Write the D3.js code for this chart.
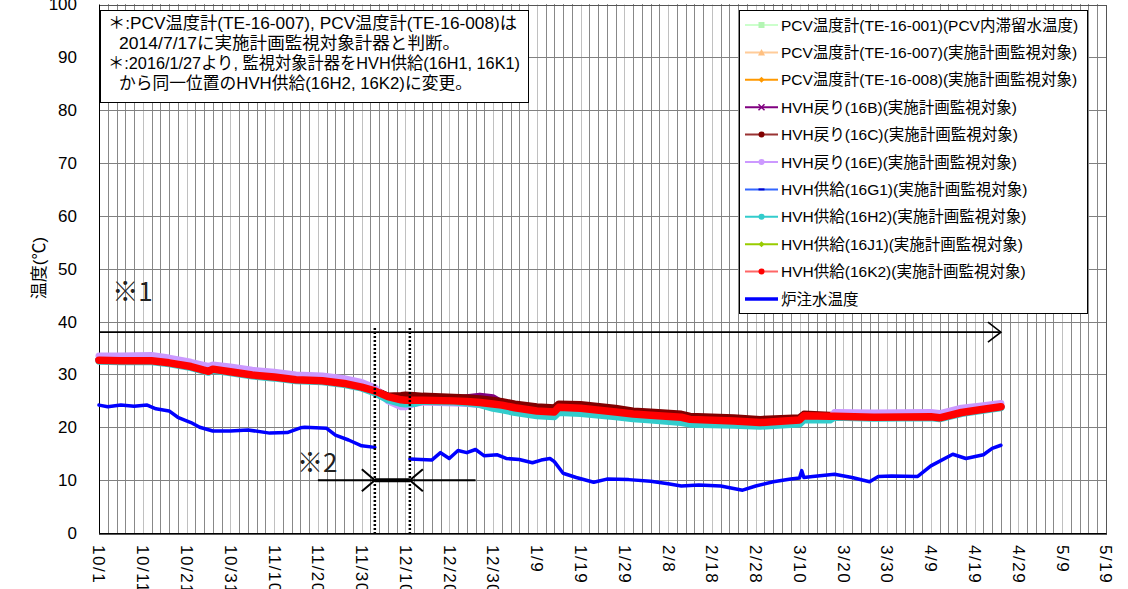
<!DOCTYPE html>
<html>
<head>
<meta charset="utf-8">
<script src="https://cdnjs.cloudflare.com/ajax/libs/d3/7.8.5/d3.min.js"></script>
<style>
  html, body { margin: 0; padding: 0; background: #fff; }
  svg { display: block; }
  .num { font-family: "Liberation Sans", Arial, sans-serif; fill: #000; }
  .jp { font-family: "Liberation Sans", "Noto Sans CJK JP", sans-serif; fill: #000; }
  .cjk { font-family: "Noto Sans CJK JP", "Liberation Sans", sans-serif; }
</style>
</head>
<body>
<svg id="chart" width="1128" height="589"></svg>
<script>
// ---- axis labels ----
const yTickLabels = [0, 10, 20, 30, 40, 50, 60, 70, 80, 90, 100];
const xTickLabels = ["10/1", "10/11", "10/21", "10/31", "11/10", "11/20", "11/30", "12/10",
  "12/20", "12/30", "1/9", "1/19", "1/29", "2/8", "2/18", "2/28", "3/10", "3/20", "3/30",
  "4/9", "4/19", "4/29", "5/9", "5/19"];
const yTitle = "温度(℃)";

// ---- PCV / HVH readings (shared sampling dates) ----
const sampleDates = ["2016-10-01", "2016-10-06", "2016-10-13", "2016-10-17", "2016-10-22",
  "2016-10-26", "2016-10-27", "2016-10-31", "2016-11-05", "2016-11-10", "2016-11-15",
  "2016-11-21", "2016-11-26", "2016-11-30", "2016-12-03", "2016-12-06", "2016-12-09",
  "2016-12-10", "2016-12-12", "2016-12-14", "2016-12-21", "2016-12-24", "2016-12-27",
  "2016-12-30", "2017-01-01", "2017-01-04", "2017-01-09", "2017-01-13", "2017-01-14",
  "2017-01-19", "2017-01-27", "2017-01-31", "2017-02-04", "2017-02-11", "2017-02-13",
  "2017-02-23", "2017-03-01", "2017-03-10", "2017-03-11", "2017-03-17", "2017-03-18",
  "2017-03-27", "2017-04-09", "2017-04-11", "2017-04-16", "2017-04-21", "2017-04-25"];

const te16001 = [32.9, 32.8, 32.8, 32.4, 31.7, 30.8, 31.2, 30.7, 30.1, 29.7, 29.2, 29.0, 28.5, 27.8, 27.1, 26.0, 25.4, 25.3, 25.3, 25.3, 25.2, 25.1, 24.9, 24.6, 24.4, 23.9, 23.3, 23.1, 24.0, 23.8, 23.1, 22.7, 22.5, 22.1, 21.7, 21.4, 21.1, 21.6, 22.4, 22.3, 22.3, 22.1, 22.2, 22.0, 23.0, 23.6, 24.1];
const te16007 = [32.8, 32.7, 32.7, 32.3, 31.6, 30.7, 31.1, 30.6, 30.0, 29.6, 29.1, 28.9, 28.4, 27.7, 27.0, 25.9, 25.3, 25.2, 25.2, 25.2, 25.1, 25.0, 24.8, 24.5, 24.3, 23.8, 23.2, 23.0, 23.9, 23.7, 23.0, 22.6, 22.4, 22.0, 21.6, 21.3, 21.0, 21.5, 22.3, 22.2, 22.2, 22.0, 22.1, 21.9, 22.9, 23.5, 24.0];
const te16008 = [32.6, 32.5, 32.5, 32.1, 31.4, 30.5, 30.9, 30.4, 29.8, 29.4, 28.9, 28.7, 28.2, 27.5, 26.8, 25.7, 25.1, 25.0, 25.0, 25.0, 24.9, 24.8, 24.6, 24.3, 24.1, 23.6, 23.0, 22.8, 23.7, 23.5, 22.8, 22.4, 22.2, 21.8, 21.4, 21.1, 20.8, 21.3, 22.1, 22.0, 22.0, 21.8, 21.9, 21.7, 22.7, 23.3, 23.8];
const hvh16B = [32.8, 32.7, 32.7, 32.3, 31.6, 30.7, 31.1, 30.6, 30.0, 29.6, 29.1, 28.9, 28.4, 27.7, 27.0, 25.9, 25.3, 25.2, 25.2, 25.2, 25.3, 25.6, 25.9, 25.6, 24.6, 23.8, 23.2, 23.0, 23.9, 23.7, 23.0, 22.6, 22.4, 22.0, 21.6, 21.3, 21.0, 21.5, 22.3, 22.2, 22.2, 22.0, 22.1, 21.9, 22.9, 23.5, 24.0];
const hvh16C = [32.8, 32.7, 32.7, 32.3, 31.6, 30.7, 31.1, 30.6, 30.0, 29.6, 29.1, 28.9, 28.4, 27.7, 27.0, 25.9, 26.0, 26.1, 26.0, 25.9, 25.7, 25.6, 25.4, 25.1, 24.9, 24.4, 23.9, 23.7, 24.4, 24.3, 23.6, 23.1, 22.9, 22.5, 22.1, 21.8, 21.5, 21.8, 22.5, 22.3, 22.2, 21.9, 22.0, 21.8, 22.8, 23.4, 23.9];
const hvh16E = [33.5, 33.5, 33.6, 33.1, 32.3, 31.5, 31.8, 31.4, 30.8, 30.4, 29.9, 29.7, 29.2, 28.5, 27.5, 25.0, 23.9, 23.9, 24.5, 24.8, 24.6, 24.5, 24.3, 24.0, 23.8, 23.3, 22.8, 22.6, 23.4, 23.2, 22.6, 22.1, 21.9, 21.4, 21.0, 20.7, 20.4, 20.9, 21.7, 21.7, 22.8, 22.7, 22.8, 22.6, 23.6, 24.1, 24.5];
const hvh16G1 = [32.5, 32.4, 32.4, 32.0, 31.3, 30.4, 30.8, 30.3, 29.7, 29.3, 28.8, 28.6, 28.1, 27.4, 26.7, 25.6, 25.0, 24.9, 24.9, 24.9, 24.8, 24.7, 24.5, 24.2, 24.0, 23.5, 22.9, 22.7, 23.6, 23.4, 22.7, 22.3, 22.1, 21.7, 21.3, 21.0, 20.7, 21.2, 22.0, 21.9, 21.9, 21.7, 21.8, 21.6, 22.6, 23.2, 23.7];
const hvh16H2 = [32.5, 32.4, 32.4, 32.0, 31.3, 30.4, 30.8, 30.3, 29.7, 29.3, 28.8, 28.6, 28.1, 27.4, 26.5, 25.2, 24.5, 24.4, 24.5, 24.9, 24.8, 24.6, 24.3, 23.6, 23.3, 22.8, 22.2, 22.0, 22.8, 22.6, 22.0, 21.6, 21.4, 20.9, 20.6, 20.4, 20.2, 20.6, 21.4, 21.4, 21.9, 21.7, 21.8, 21.6, 22.6, 23.2, 23.7];
const hvh16J1 = [33.0, 32.9, 32.9, 32.5, 31.8, 30.9, 31.3, 30.8, 30.2, 29.8, 29.3, 29.1, 28.6, 27.9, 27.2, 26.1, 25.5, 25.4, 25.4, 25.4, 25.3, 25.2, 25.0, 24.7, 24.5, 24.0, 23.4, 23.2, 24.1, 23.9, 23.2, 22.8, 22.6, 22.2, 21.8, 21.5, 21.2, 21.7, 22.5, 22.4, 22.4, 22.2, 22.3, 22.1, 23.1, 23.7, 24.2];
const hvh16K2 = [32.7, 32.6, 32.6, 32.2, 31.5, 30.6, 31.0, 30.5, 29.9, 29.5, 29.0, 28.8, 28.3, 27.6, 26.9, 25.8, 25.2, 25.1, 25.1, 25.1, 25.0, 24.9, 24.7, 24.4, 24.2, 23.7, 23.1, 22.9, 23.8, 23.6, 22.9, 22.5, 22.3, 21.9, 21.5, 21.2, 20.9, 21.4, 22.2, 22.1, 22.1, 21.9, 22.0, 21.8, 22.8, 23.4, 23.9];

// ---- reactor injection water temperature (null = no data) ----
const injDates = ["2016-10-01", "2016-10-03", "2016-10-06", "2016-10-09", "2016-10-12",
  "2016-10-14", "2016-10-17", "2016-10-19", "2016-10-22", "2016-10-24", "2016-10-27",
  "2016-10-31", "2016-11-04", "2016-11-09", "2016-11-13", "2016-11-16", "2016-11-17",
  "2016-11-22", "2016-11-24", "2016-11-27", "2016-11-30", "2016-12-03", "2016-12-07",
  "2016-12-11", "2016-12-16", "2016-12-18", "2016-12-20", "2016-12-22", "2016-12-24",
  "2016-12-26", "2016-12-28", "2016-12-31", "2017-01-02", "2017-01-05", "2017-01-08",
  "2017-01-10", "2017-01-12", "2017-01-13", "2017-01-15", "2017-01-18", "2017-01-22",
  "2017-01-25", "2017-01-30", "2017-02-04", "2017-02-08", "2017-02-11", "2017-02-15",
  "2017-02-20", "2017-02-25", "2017-02-28", "2017-03-04", "2017-03-08", "2017-03-10",
  "2017-03-10T12:00", "2017-03-11", "2017-03-13", "2017-03-18", "2017-03-22", "2017-03-26",
  "2017-03-28", "2017-03-31", "2017-04-06", "2017-04-09", "2017-04-14", "2017-04-17",
  "2017-04-21", "2017-04-23", "2017-04-25"];
const injTemps = [24.2, 23.9, 24.2, 24.0, 24.2, 23.5, 23.1, 21.9, 20.9, 20.0, 19.3,
  19.3, 19.5, 18.9, 19.0, 19.9, 20.0, 19.8, 18.5, 17.6, 16.5, 16.2, null,
  14.0, 13.8, 15.2, 14.1, 15.6, 15.2, 15.8, 14.6, 14.8, 14.1, 13.9, 13.3,
  13.8, 14.1, 13.5, 11.3, 10.5, 9.6, 10.2, 10.1, 9.8, 9.3, 8.9, 9.1,
  8.9, 8.1, 8.9, 9.7, 10.2, 10.4, 11.8, 10.5, 10.7, 11.1, 10.5, 9.7,
  10.7, 10.8, 10.7, 12.7, 14.9, 14.1, 14.8, 16.0, 16.6];

// ---- series names (legend order = drawing order) ----
const seriesNames = [
  "PCV温度計(TE-16-001)(PCV内滞留水温度)",
  "PCV温度計(TE-16-007)(実施計画監視対象)",
  "PCV温度計(TE-16-008)(実施計画監視対象)",
  "HVH戻り(16B)(実施計画監視対象)",
  "HVH戻り(16C)(実施計画監視対象)",
  "HVH戻り(16E)(実施計画監視対象)",
  "HVH供給(16G1)(実施計画監視対象)",
  "HVH供給(16H2)(実施計画監視対象)",
  "HVH供給(16J1)(実施計画監視対象)",
  "HVH供給(16K2)(実施計画監視対象)",
  "炉注水温度"];
const seriesValues = [te16001, te16007, te16008, hvh16B, hvh16C, hvh16E, hvh16G1, hvh16H2, hvh16J1, hvh16K2];

// ---- annotations ----
const noteLines = [
  "＊:PCV温度計(TE-16-007), PCV温度計(TE-16-008)は",
  "2014/7/17に実施計画監視対象計器と判断。",
  "＊:2016/1/27より, 監視対象計器をHVH供給(16H1, 16K1)",
  "から同一位置のHVH供給(16H2, 16K2)に変更。"];
const span1Label = "※1";
const span1Dates = ["2016-10-01", "2017-04-25"];
const span1Level = 38;
const span2Label = "※2";
const span2Dates = ["2016-11-20", "2016-12-26"];
const span2Level = 10;
const gapDates = ["2016-12-03", "2016-12-11"];
const gapTop = 38.8;

// ---- styles ----
const styles = [
  {chart: "#ccffcc", width: 2.5, legendLine: "#ccffcc", marker: "square", markerFill: "#b3f5b3"},
  {chart: "#ffcc99", width: 2.5, legendLine: "#ffcc99", marker: "triangle", markerFill: "#ffc080"},
  {chart: "#ff9900", width: 2.5, legendLine: "#ff9900", marker: "diamond", markerFill: "#ff9900"},
  {chart: "#800080", width: 7, legendLine: "#800080", marker: "cross", markerFill: "#800080"},
  {chart: "#800000", width: 7, legendLine: "#993333", marker: "circle", markerFill: "#800000"},
  {chart: "#cc99ff", width: 7, legendLine: "#cc99ff", marker: "circle", markerFill: "#cc99ff"},
  {chart: "#3366ff", width: 2.5, legendLine: "#3366ff", marker: "dash", markerFill: "#0000cc"},
  {chart: "#33cccc", width: 7, legendLine: "#33cccc", marker: "circle", markerFill: "#33cccc"},
  {chart: "#99cc00", width: 2.5, legendLine: "#99cc00", marker: "diamond", markerFill: "#99cc00"},
  {chart: "#ff0000", width: 7.5, legendLine: "#ff6666", marker: "circle", markerFill: "#ff0000"},
  {chart: "#0000ff", width: 3.5, legendLine: "#0000ff", marker: null, markerFill: null, legendWidth: 3.5}
];

// ---- helpers ----
const parseDay = d3.timeParse("%Y-%m-%d");
const parseStamp = d3.timeParse("%Y-%m-%dT%H:%M");
const toDate = s => s.length > 10 ? parseStamp(s) : parseDay(s);
const fromLabel = s => {
  const [m, d] = s.split("/").map(Number);
  return new Date(m >= 10 ? 2016 : 2017, m - 1, d);
};
const crisp = v => Math.round(v) + 0.5;

const plot = {left: 99, right: 1106, top: 4.5, bottom: 533};
const tickDates = xTickLabels.map(fromLabel);
const x = d3.scaleTime()
  .domain([tickDates[0], tickDates[tickDates.length - 1]])
  .range([plot.left, plot.right]);
const y = d3.scaleLinear().domain([0, 100]).range([plot.bottom, plot.top]);

const svg = d3.select("#chart");

// ---- gridlines ----
const grid = svg.append("g");
const start = x.domain()[0], end = x.domain()[1];
const majorKeys = new Set(tickDates.map(d => +d));
const minorDays = d3.timeDay.range(start, d3.timeDay.offset(end, 1), 2)
  .filter(d => !majorKeys.has(+d));
grid.selectAll("line.minor").data(minorDays).join("line")
  .attr("class", "minor")
  .attr("x1", d => crisp(x(d))).attr("x2", d => crisp(x(d)))
  .attr("y1", plot.top).attr("y2", plot.bottom)
  .attr("stroke", "#111").attr("stroke-width", 1).attr("stroke-dasharray", "1,1");
grid.selectAll("line.major").data(tickDates.slice(1, -1)).join("line")
  .attr("class", "major")
  .attr("x1", d => crisp(x(d))).attr("x2", d => crisp(x(d)))
  .attr("y1", plot.top).attr("y2", plot.bottom)
  .attr("stroke", "#c0c0c0").attr("stroke-width", 1);
grid.selectAll("line.h").data(yTickLabels.slice(1, -1)).join("line")
  .attr("class", "h")
  .attr("x1", plot.left).attr("x2", plot.right)
  .attr("y1", d => crisp(y(d))).attr("y2", d => crisp(y(d)))
  .attr("stroke", "#808080").attr("stroke-width", 1);

// plot frame
svg.append("rect")
  .attr("x", crisp(plot.left)).attr("y", crisp(plot.top))
  .attr("width", Math.round(plot.right - plot.left)).attr("height", Math.round(plot.bottom - plot.top))
  .attr("fill", "none").attr("stroke", "#555").attr("stroke-width", 1);
svg.append("line")
  .attr("x1", crisp(plot.left)).attr("x2", crisp(plot.left))
  .attr("y1", plot.top).attr("y2", crisp(plot.bottom))
  .attr("stroke", "#000");
svg.append("line")
  .attr("x1", crisp(plot.left)).attr("x2", crisp(plot.right))
  .attr("y1", crisp(plot.bottom)).attr("y2", crisp(plot.bottom))
  .attr("stroke", "#000");

// ---- axes labels ----
const yAxis = d3.axisLeft(y).tickValues(yTickLabels).tickSize(0).tickPadding(0);
const yG = svg.append("g").attr("transform", `translate(${plot.left - 22},0)`).call(yAxis);
yG.select(".domain").remove();
yG.selectAll("text").attr("class", "num").attr("font-size", 17).attr("fill", "#000");

const xAxis = d3.axisBottom(x).tickValues(tickDates).tickSize(0)
  .tickFormat((d, i) => xTickLabels[i]);
const xG = svg.append("g").attr("transform", `translate(0,${plot.bottom})`).call(xAxis);
xG.select(".domain").remove();
xG.selectAll("text")
  .attr("class", "num").attr("font-size", 17).attr("fill", "#000")
  .attr("letter-spacing", 1.5)
  .attr("text-anchor", "start")
  .attr("transform", "rotate(90)")
  .attr("x", 12).attr("y", 0).attr("dy", "0.36em");

svg.append("text")
  .attr("class", "jp")
  .attr("transform", `translate(45,268) rotate(-90)`)
  .attr("text-anchor", "middle")
  .attr("font-size", 17)
  .text(yTitle);

// ---- series ----
const sampleTimes = sampleDates.map(toDate);
const line = d3.line()
  .defined(d => d.v != null)
  .x(d => x(d.t)).y(d => y(d.v));
const seriesG = svg.append("g");
seriesValues.forEach((vals, i) => {
  const pts = vals.map((v, k) => ({t: sampleTimes[k], v}));
  seriesG.append("path")
    .attr("d", line(pts))
    .attr("fill", "none")
    .attr("stroke", styles[i].chart)
    .attr("stroke-width", styles[i].width)
    .attr("stroke-linejoin", "round")
    .attr("stroke-linecap", "round");
});
const injPts = injDates.map((s, k) => ({t: toDate(s), v: injTemps[k]}));
seriesG.append("path")
  .attr("d", line(injPts))
  .attr("fill", "none")
  .attr("stroke", styles[10].chart)
  .attr("stroke-width", styles[10].width)
  .attr("stroke-linejoin", "round")
  .attr("stroke-linecap", "round");

// ---- span markers ----
const ann = svg.append("g");
// dotted guides at the data gap
gapDates.map(toDate).forEach(d => {
  ann.append("line")
    .attr("x1", x(d)).attr("x2", x(d))
    .attr("y1", y(gapTop)).attr("y2", plot.bottom)
    .attr("stroke", "#000").attr("stroke-width", 2.5).attr("stroke-dasharray", "2,2");
});
// span 1 arrow
const s1a = x(toDate(span1Dates[0])), s1b = x(toDate(span1Dates[1])), s1y = y(span1Level);
ann.append("line").attr("x1", s1a).attr("x2", s1b).attr("y1", s1y).attr("y2", s1y)
  .attr("stroke", "#000").attr("stroke-width", 1.6);
ann.append("path")
  .attr("d", `M${s1b - 13},${s1y - 10}L${s1b},${s1y}L${s1b - 13},${s1y + 10}`)
  .attr("fill", "none").attr("stroke", "#000").attr("stroke-width", 1.6);
ann.append("text").attr("class", "cjk")
  .attr("x", x(toDate("2016-10-04"))).attr("y", y(span1Level) - 31)
  .attr("font-size", 26).attr("fill", "#222")
  .text(span1Label);

// span 2 arrow
const s2a = x(toDate(span2Dates[0])), s2b = x(toDate(span2Dates[1])), s2y = y(span2Level);
const g1 = x(toDate(gapDates[0])), g2 = x(toDate(gapDates[1]));
ann.append("line").attr("x1", s2a).attr("x2", s2b).attr("y1", s2y).attr("y2", s2y)
  .attr("stroke", "#000").attr("stroke-width", 2);
ann.append("line").attr("x1", g1).attr("x2", g2).attr("y1", s2y).attr("y2", s2y)
  .attr("stroke", "#000").attr("stroke-width", 4);
ann.append("path")
  .attr("d", `M${g1 - 13},${s2y - 11}L${g1},${s2y}L${g1 - 13},${s2y + 11}`)
  .attr("fill", "none").attr("stroke", "#000").attr("stroke-width", 2);
ann.append("path")
  .attr("d", `M${g2 + 13},${s2y - 11}L${g2},${s2y}L${g2 + 13},${s2y + 11}`)
  .attr("fill", "none").attr("stroke", "#000").attr("stroke-width", 2);
ann.append("text").attr("class", "cjk")
  .attr("x", 297).attr("y", s2y - 8)
  .attr("font-size", 26).attr("fill", "#222")
  .text(span2Label);

// ---- note box ----
const note = svg.append("g");
note.append("rect").attr("x", 100.5).attr("y", 10.5).attr("width", 428).attr("height", 92)
  .attr("fill", "#fff").attr("stroke", "#000").attr("stroke-width", 1);
const noteX = [108, 119, 108, 119];
const noteY = [29.3, 48.7, 69.3, 89.3];
const noteW = [409, 341, 412, 353];
note.selectAll("text").data(noteLines).join("text")
  .attr("class", "jp")
  .attr("x", (d, i) => noteX[i]).attr("y", (d, i) => noteY[i])
  .attr("font-size", 16.5)
  .attr("textLength", (d, i) => noteW[i])
  .attr("lengthAdjust", "spacingAndGlyphs")
  .text(d => d);

// ---- legend ----
const leg = svg.append("g");
leg.append("rect").attr("x", 739.5).attr("y", 10.5).attr("width", 348).attr("height", 303)
  .attr("fill", "#fff").attr("stroke", "#000").attr("stroke-width", 1);
seriesNames.forEach((name, i) => {
  const cy = 25 + i * 27.4;
  const st = styles[i];
  const row = leg.append("g");
  row.append("line").attr("x1", 745).attr("x2", 778).attr("y1", cy).attr("y2", cy)
    .attr("stroke", st.legendLine).attr("stroke-width", st.legendWidth || 2);
  const mx = 761.5;
  if (st.marker === "circle") {
    row.append("circle").attr("cx", mx).attr("cy", cy).attr("r", 3).attr("fill", st.markerFill);
  } else if (st.marker === "square") {
    row.append("rect").attr("x", mx - 3).attr("y", cy - 3).attr("width", 6).attr("height", 6).attr("fill", st.markerFill);
  } else if (st.marker === "triangle") {
    row.append("path").attr("d", `M${mx},${cy - 3.5}L${mx + 3.5},${cy + 3}L${mx - 3.5},${cy + 3}Z`).attr("fill", st.markerFill);
  } else if (st.marker === "diamond") {
    row.append("path").attr("d", `M${mx},${cy - 3}L${mx + 3},${cy}L${mx},${cy + 3}L${mx - 3},${cy}Z`).attr("fill", st.markerFill);
  } else if (st.marker === "cross") {
    row.append("path").attr("d", `M${mx - 3},${cy - 3}L${mx + 3},${cy + 3}M${mx + 3},${cy - 3}L${mx - 3},${cy + 3}`)
      .attr("stroke", st.markerFill).attr("stroke-width", 1.5);
  } else if (st.marker === "dash") {
    row.append("line").attr("x1", mx - 3).attr("x2", mx + 3).attr("y1", cy).attr("y2", cy)
      .attr("stroke", st.markerFill).attr("stroke-width", 2);
  }
  row.append("text").attr("class", "jp")
    .attr("x", 781).attr("y", cy).attr("dy", "0.36em")
    .attr("font-size", 15.5)
    .text(name);
});
</script>
</body>
</html>
